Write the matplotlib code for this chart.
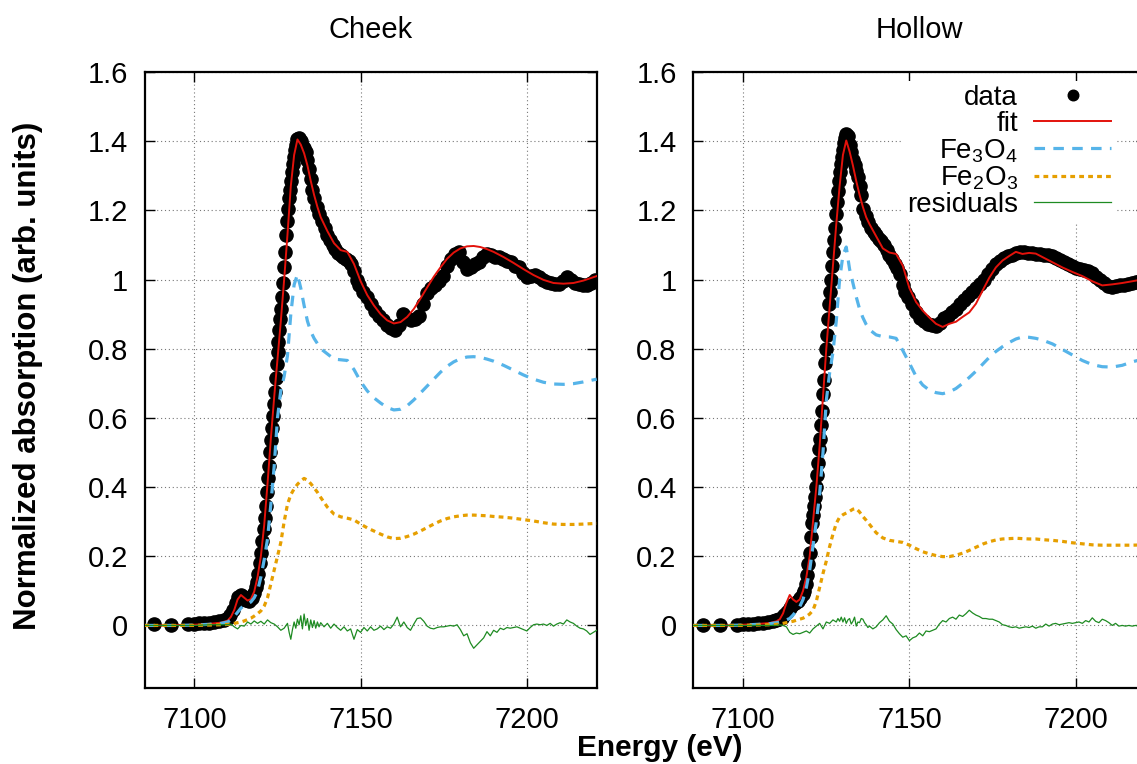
import matplotlib
matplotlib.use('Agg')
import matplotlib.pyplot as plt

plt.rcParams['font.family'] = ['Liberation Sans', 'DejaVu Sans']
plt.rcParams['mathtext.fontset'] = 'custom'
plt.rcParams['mathtext.rm'] = 'Liberation Sans'
plt.rcParams['mathtext.it'] = 'Liberation Sans:italic'
plt.rcParams['mathtext.bf'] = 'Liberation Sans:bold'
plt.rcParams['mathtext.default'] = 'regular'

# ---------------- data ----------------
panel_titles = ["Cheek", "Hollow"]
legend_labels = ["data", "fit", "Fe$_3$O$_4$", "Fe$_2$O$_3$", "residuals"]
xticks = [7100, 7150, 7200]
yticks = [0, 0.2, 0.4, 0.6, 0.8, 1.0, 1.2, 1.4, 1.6]
ytick_labels = ["0", "0.2", "0.4", "0.6", "0.8", "1", "1.2", "1.4", "1.6"]

E_data = [7088, 7093, 7098,
          7100, 7101.5, 7103, 7104.5, 7106, 7107.5, 7109, 7110,
          7110.8, 7111.6, 7112.4, 7113.2, 7114, 7114.8, 7115.6, 7116.4, 7117.2, 7118,
          7118.4, 7118.8, 7119.2, 7119.6, 7120, 7120.4, 7120.8, 7121.1, 7121.4, 7121.7,
          7122, 7122.3, 7122.6, 7122.9, 7123.2, 7123.5, 7123.8, 7124.1, 7124.4, 7124.7,
          7125, 7125.3, 7125.6, 7125.9, 7126.2, 7126.5, 7126.8, 7127.1, 7127.4, 7127.7,
          7128, 7128.3, 7128.6, 7128.9, 7129.2, 7129.5, 7129.8, 7130.1, 7130.4, 7130.7, 7131,
          7131.5, 7132, 7132.5, 7133, 7133.5, 7134, 7134.5, 7135, 7135.5, 7136,
          7136.8, 7137.6, 7138.4, 7139.2, 7140, 7140.8, 7141.6, 7142.4, 7143.2, 7144,
          7144.8, 7145.6, 7146.4, 7147.2, 7148, 7148.8, 7149.6,
          7150.8, 7152, 7153.2, 7154.4, 7155.6, 7156.8, 7158, 7159.2, 7160.4, 7161.6,
          7162.8, 7164, 7165.2, 7166.4, 7167.6, 7168.8, 7170, 7171.2, 7172.4, 7173.6,
          7174.8, 7176, 7177.2, 7178.4, 7179.6, 7180.8, 7182, 7183.2, 7184.4, 7185.6,
          7186.8, 7188, 7189.2, 7190.4, 7191.6, 7192.8, 7194, 7195.2, 7196.4, 7197.6,
          7198.8, 7200, 7201.2, 7202.4, 7203.6, 7204.8, 7206, 7207.2, 7208.4, 7209.6,
          7210.8, 7212, 7213.2, 7214.4, 7215.6, 7216.8, 7218, 7219.2, 7220.4]

cheek_data = [0.003, 0.002, 0.004,
              0.005, 0.006, 0.007, 0.008, 0.010, 0.012, 0.016, 0.022,
              0.030, 0.045, 0.065, 0.082, 0.088, 0.082, 0.074, 0.072, 0.080, 0.095,
              0.110, 0.125, 0.150, 0.180, 0.210, 0.245, 0.280, 0.310, 0.345, 0.385,
              0.425, 0.460, 0.500, 0.535, 0.570, 0.605, 0.640, 0.675, 0.715, 0.755,
              0.790, 0.820, 0.855, 0.885, 0.915, 0.950, 0.990, 1.035, 1.080, 1.130,
              1.170, 1.205, 1.235, 1.260, 1.285, 1.310, 1.335, 1.355, 1.375, 1.390, 1.405,
              1.408, 1.400, 1.390, 1.380, 1.370, 1.345, 1.320, 1.290, 1.260, 1.235,
              1.210, 1.190, 1.170, 1.150, 1.130, 1.115, 1.100, 1.088, 1.078, 1.070,
              1.065, 1.060, 1.055, 1.045, 1.025, 1.000, 0.985,
              0.965, 0.950, 0.930, 0.910, 0.895, 0.882, 0.870, 0.860, 0.855, 0.870,
              0.900, 0.888, 0.882, 0.885, 0.895, 0.930, 0.960, 0.975, 0.985, 0.995,
              1.010, 1.040, 1.060, 1.075, 1.080, 1.050, 1.030, 1.035, 1.045, 1.050,
              1.065, 1.075, 1.070, 1.065, 1.066, 1.060, 1.055, 1.050, 1.040, 1.035,
              1.020, 1.007, 1.010, 1.012, 1.008, 1.000, 0.993, 0.990, 0.988, 0.988,
              0.995, 1.007, 1.000, 0.990, 0.986, 0.984, 0.983, 0.990, 0.998]

hollow_data = [0.001, 0.001, 0.002,
               0.003, 0.004, 0.005, 0.006, 0.007, 0.009, 0.012, 0.015,
               0.018, 0.022, 0.030, 0.040, 0.050, 0.060, 0.066, 0.070, 0.078, 0.092,
               0.100, 0.120, 0.145, 0.178, 0.210, 0.255, 0.295, 0.320, 0.345, 0.370,
               0.400, 0.435, 0.470, 0.510, 0.540, 0.580, 0.620, 0.670, 0.710, 0.760,
               0.800, 0.840, 0.885, 0.930, 0.965, 1.000, 1.040, 1.080, 1.115, 1.150,
               1.190, 1.225, 1.255, 1.285, 1.310, 1.335, 1.355, 1.375, 1.395, 1.410, 1.422,
               1.415, 1.390, 1.370, 1.345, 1.330, 1.315, 1.295, 1.270, 1.245, 1.205,
               1.185, 1.165, 1.150, 1.138, 1.128, 1.118, 1.110, 1.100, 1.085, 1.070,
               1.058, 1.045, 1.032, 1.015, 0.985, 0.965, 0.950,
               0.930, 0.905, 0.890, 0.880, 0.872, 0.868, 0.866, 0.875, 0.888, 0.895,
               0.905, 0.915, 0.928, 0.940, 0.952, 0.963, 0.975, 0.988, 1.000, 1.015,
               1.030, 1.045, 1.055, 1.062, 1.068, 1.072, 1.076, 1.080, 1.080, 1.078,
               1.077, 1.075, 1.073, 1.072, 1.070, 1.068, 1.062, 1.056, 1.050, 1.045,
               1.038, 1.032, 1.030, 1.028, 1.025, 1.018, 1.008, 0.998, 0.990, 0.980,
               0.978, 0.982, 0.983, 0.985, 0.988, 0.990, 0.993, 0.996, 1.000]

E_model = [7085, 7090, 7095, 7100, 7104, 7108,
           7110, 7111, 7112, 7113, 7114, 7115, 7116, 7117, 7118, 7119,
           7120, 7121, 7122, 7123, 7124, 7125, 7126, 7127, 7128, 7129,
           7130, 7131, 7132, 7133, 7134, 7135, 7136, 7137, 7138,
           7140, 7142, 7144, 7146, 7148, 7150, 7152, 7154, 7156, 7158,
           7160, 7162, 7164, 7166, 7168, 7170, 7172, 7174, 7176, 7178,
           7180, 7182, 7184, 7186, 7188, 7190,
           7193, 7196, 7199, 7202, 7205, 7208, 7211, 7214, 7217, 7221]

cheek_fit = [0.000, 0.000, 0.001, 0.002, 0.004, 0.008,
             0.014, 0.025, 0.045, 0.075, 0.088, 0.080, 0.072, 0.076, 0.098, 0.140,
             0.200, 0.290, 0.410, 0.540, 0.660, 0.770, 0.880, 1.000, 1.130, 1.270,
             1.360, 1.405, 1.390, 1.365, 1.330, 1.285, 1.245, 1.210, 1.180,
             1.140, 1.105, 1.085, 1.080, 1.045, 0.995, 0.955, 0.925, 0.900, 0.882,
             0.873, 0.877, 0.892, 0.915, 0.945, 0.977, 1.008, 1.035, 1.060, 1.078,
             1.090, 1.096, 1.097, 1.094, 1.088, 1.080,
             1.065, 1.048, 1.030, 1.013, 0.999, 0.990, 0.988, 0.990, 0.997, 1.010]

cheek_fe3o4 = [0.000, 0.000, 0.000, 0.001, 0.003, 0.006,
               0.010, 0.016, 0.026, 0.038, 0.050, 0.058, 0.062, 0.068, 0.080, 0.100,
               0.140, 0.190, 0.250, 0.350, 0.460, 0.600, 0.680, 0.720, 0.780, 0.900,
               0.985, 1.015, 0.975, 0.925, 0.880, 0.850, 0.830, 0.815, 0.800,
               0.785, 0.770, 0.768, 0.766, 0.740, 0.705, 0.678, 0.658, 0.643, 0.630,
               0.623, 0.625, 0.635, 0.652, 0.672, 0.692, 0.712, 0.732, 0.749, 0.762,
               0.771, 0.776, 0.777, 0.775, 0.770, 0.764,
               0.752, 0.738, 0.724, 0.712, 0.703, 0.698, 0.697, 0.699, 0.704, 0.712]

cheek_fe2o3 = [0.000, 0.000, 0.000, 0.000, 0.001, 0.002,
               0.003, 0.004, 0.006, 0.008, 0.010, 0.013, 0.017, 0.021, 0.027, 0.034,
               0.042, 0.056, 0.080, 0.120, 0.160, 0.200, 0.240, 0.300, 0.350, 0.378,
               0.395, 0.408, 0.418, 0.425, 0.420, 0.410, 0.398, 0.385, 0.370,
               0.342, 0.322, 0.314, 0.310, 0.305, 0.293, 0.282, 0.273, 0.264, 0.256,
               0.251, 0.252, 0.257, 0.264, 0.273, 0.283, 0.293, 0.302, 0.309, 0.314,
               0.317, 0.319, 0.319, 0.318, 0.317, 0.315,
               0.313, 0.310, 0.306, 0.302, 0.297, 0.293, 0.292, 0.292, 0.293, 0.295]

hollow_fit = [0.000, 0.000, 0.000, 0.002, 0.004, 0.007,
              0.012, 0.018, 0.035, 0.065, 0.088, 0.075, 0.068, 0.075, 0.100, 0.140,
              0.200, 0.300, 0.400, 0.520, 0.660, 0.800, 0.920, 1.040, 1.160, 1.270,
              1.360, 1.402, 1.370, 1.330, 1.285, 1.245, 1.210, 1.180, 1.160,
              1.125, 1.090, 1.078, 1.074, 1.040, 0.975, 0.935, 0.910, 0.890, 0.872,
              0.863, 0.872, 0.878, 0.892, 0.905, 0.930, 0.968, 1.005, 1.035, 1.055,
              1.068, 1.080, 1.074, 1.077, 1.075, 1.065,
              1.050, 1.035, 1.022, 1.010, 0.995, 0.983, 0.986, 0.990, 0.995, 1.002]

hollow_fe3o4 = [0.000, 0.000, 0.000, 0.001, 0.003, 0.005,
                0.008, 0.010, 0.013, 0.016, 0.020, 0.030, 0.042, 0.054, 0.075, 0.110,
                0.160, 0.230, 0.300, 0.380, 0.500, 0.650, 0.730, 0.790, 0.880, 1.000,
                1.070, 1.094, 1.030, 0.990, 0.950, 0.915, 0.890, 0.870, 0.855,
                0.840, 0.835, 0.834, 0.830, 0.795, 0.758, 0.720, 0.695, 0.680, 0.673,
                0.670, 0.675, 0.685, 0.700, 0.717, 0.735, 0.755, 0.775, 0.792, 0.806,
                0.818, 0.828, 0.834, 0.833, 0.830, 0.825,
                0.814, 0.798, 0.782, 0.766, 0.754, 0.748, 0.747, 0.752, 0.762, 0.772]

hollow_fe2o3 = [0.000, 0.000, 0.000, 0.000, 0.001, 0.002,
                0.003, 0.004, 0.006, 0.008, 0.010, 0.012, 0.015, 0.018, 0.021, 0.026,
                0.033, 0.044, 0.070, 0.110, 0.150, 0.186, 0.228, 0.264, 0.295, 0.313,
                0.320, 0.325, 0.330, 0.336, 0.338, 0.328, 0.315, 0.304, 0.292,
                0.268, 0.253, 0.246, 0.243, 0.240, 0.232, 0.222, 0.213, 0.207, 0.202,
                0.199, 0.199, 0.203, 0.209, 0.217, 0.226, 0.235, 0.242, 0.247, 0.250,
                0.251, 0.252, 0.251, 0.250, 0.250, 0.248,
                0.246, 0.243, 0.239, 0.236, 0.233, 0.232, 0.232, 0.232, 0.232, 0.233]

E_res = [7085, 7090, 7095, 7100, 7105,
         7110, 7111, 7112, 7113, 7114, 7115, 7116, 7117, 7118, 7119,
         7120, 7121, 7122, 7123, 7124, 7125, 7126, 7127, 7128,
         7128.5, 7129, 7129.5, 7130, 7130.5, 7131, 7131.5, 7132, 7132.5, 7133,
         7133.5, 7134, 7134.5, 7135, 7135.5, 7136, 7136.5, 7137, 7137.5, 7138,
         7139, 7140, 7141, 7142, 7143, 7144, 7145, 7146, 7147, 7148, 7149,
         7150, 7151, 7152, 7153, 7154, 7155, 7156, 7157, 7158, 7159,
         7160, 7161, 7162, 7163, 7164, 7165, 7166, 7167, 7168, 7169,
         7170, 7171, 7172, 7173, 7174, 7175, 7176, 7177, 7178, 7179,
         7180, 7181, 7182, 7183, 7184, 7185, 7186, 7187, 7188, 7189,
         7190, 7191, 7192, 7193, 7194, 7195, 7196, 7197, 7198, 7199,
         7200, 7201, 7202, 7203, 7204, 7205, 7206, 7207, 7208, 7209,
         7210, 7211, 7212, 7213, 7214, 7215, 7216, 7217, 7218, 7219,
         7220, 7221]

cheek_res = [0.000, 0.000, 0.000, 0.000, 0.002,
             0.002, 0.004, -0.004, -0.010, 0.000, -0.002, 0.010, 0.004, 0.013, 0.006,
             0.012, 0.004, 0.016, 0.008, 0.004, -0.004, -0.014, -0.008, 0.006,
             -0.020, -0.040, -0.012, 0.010, -0.008, 0.018, 0.002, 0.028, -0.010, 0.033,
             0.000, 0.020, -0.014, 0.016, -0.006, 0.014, -0.008, 0.010, -0.004, 0.008,
             -0.004, 0.006, -0.008, 0.004, -0.006, -0.014, -0.004, -0.016, -0.010, -0.040, -0.012,
             -0.020, -0.006, -0.016, -0.004, -0.014, -0.010, -0.002, -0.012, -0.004, -0.008,
             0.004, 0.024, -0.004, 0.010, -0.006, -0.014, 0.004, 0.020, 0.022, 0.012,
             -0.002, -0.008, -0.010, -0.006, -0.004, -0.004, -0.002, 0.000, -0.002, 0.002,
             -0.012, -0.030, -0.024, -0.050, -0.066, -0.056, -0.046, -0.036, -0.018, -0.030,
             -0.014, -0.020, -0.008, -0.012, -0.006, -0.008, -0.006, -0.004, -0.008, -0.012,
             -0.016, -0.006, 0.002, 0.004, 0.002, 0.004, 0.000, 0.006, -0.002, 0.004,
             0.008, 0.004, 0.016, 0.010, 0.006, -0.002, -0.008, -0.010, -0.016, -0.026,
             -0.020, -0.014]

hollow_res = [0.000, 0.000, 0.000, 0.000, 0.000,
              0.000, 0.002, 0.000, -0.004, -0.020, -0.026, -0.022, -0.024, -0.020, -0.016,
              -0.022, -0.010, -0.002, 0.006, -0.010, 0.010, 0.006, 0.016, 0.010,
              0.020, 0.012, 0.024, 0.010, 0.022, 0.006, 0.016, 0.020, 0.004, 0.012,
              0.024, -0.002, 0.010, 0.008, 0.020, 0.018, 0.008, 0.002, -0.006, -0.002,
              -0.010, -0.004, 0.008, 0.016, 0.028, 0.012, 0.004, -0.012, -0.024, -0.034, -0.030,
              -0.044, -0.036, -0.032, -0.022, -0.030, -0.016, -0.018, -0.014, -0.010, 0.004,
              0.014, 0.010, 0.020, 0.024, 0.018, 0.030, 0.026, 0.034, 0.044, 0.036,
              0.030, 0.026, 0.020, 0.020, 0.018, 0.018, 0.014, 0.010, 0.002, 0.000,
              -0.004, -0.006, -0.004, -0.008, -0.006, -0.004, -0.006, -0.002, -0.008, -0.004,
              -0.004, 0.004, -0.002, 0.004, 0.006, 0.002, 0.004, 0.006, 0.008, 0.006,
              0.008, 0.010, 0.006, 0.014, 0.010, 0.022, 0.012, 0.008, 0.018, 0.014,
              0.008, 0.000, 0.006, -0.002, 0.000, -0.002, 0.000, -0.002, 0.000, -0.002,
              0.000, 0.000]

panels = [
    (cheek_data, cheek_fit, cheek_fe3o4, cheek_fe2o3, cheek_res),
    (hollow_data, hollow_fit, hollow_fe3o4, hollow_fe2o3, hollow_res),
]

# ---------------- styling ----------------
C_FIT = '#e3120b'
C_FE3O4 = '#56b4e9'
C_FE2O3 = '#e69f00'
C_RES = '#1e8b22'
FS = 21

W, H = 1137, 764
fig = plt.figure(figsize=(W / 100, H / 100), dpi=100)


def rect(l, t, r, b):
    return [l / W, 1 - b / H, (r - l) / W, (b - t) / H]


axes = [fig.add_axes(rect(144.5, 72, 596.7, 687.7)),
        fig.add_axes(rect(693.3, 72, 1145.5, 687.7))]

for ax, (mu, fit, f3, f2, res), title in zip(axes, panels, panel_titles):
    ax.plot(E_data, mu, 'o', color='black', ms=9.5, mec='black', zorder=2,
            label=legend_labels[0])
    ax.plot(E_model, fit, '-', color=C_FIT, lw=1.4, zorder=3, label=legend_labels[1])
    ax.plot(E_model, f3, color=C_FE3O4, lw=2.3, ls=(0, (3.3, 2.6)), zorder=4,
            label=legend_labels[2])
    ax.plot(E_model, f2, color=C_FE2O3, lw=2.3, ls=(0, (1.5, 1.3)), zorder=5,
            label=legend_labels[3])
    ax.plot(E_res, res, '-', color=C_RES, lw=0.9, zorder=6, label=legend_labels[4])

    ax.set_xlim(7085, 7221)
    ax.set_ylim(-0.18, 1.6)
    ax.set_xticks(xticks)
    ax.set_yticks(yticks)
    ax.set_yticklabels(ytick_labels)
    ax.grid(True, color='#777777', lw=0.8, ls=(0, (1, 2.5)))
    ax.set_axisbelow(True)
    ax.tick_params(axis='both', direction='in', length=7, width=1.0,
                   top=True, right=True, labelsize=FS, colors='black')
    ax.tick_params(axis='x', pad=13)
    ax.tick_params(axis='y', pad=12)
    for sp in ax.spines.values():
        sp.set_linewidth(1.6)
    pos = ax.get_position()
    fig.text(pos.x0 + pos.width / 2, 1 - 30 / H, title, ha='center', va='center',
             fontsize=FS)

# legend on right panel (opaque white box hides the grid, like the reference)
leg = axes[1].legend(loc='upper right', bbox_to_anchor=(1115 / W, 1 - 81 / H),
                     bbox_transform=fig.transFigure, borderaxespad=0,
                     markerfirst=False, fontsize=20, frameon=True, fancybox=False,
                     framealpha=1, facecolor='white', edgecolor='none',
                     borderpad=0.15, labelspacing=0.0, handlelength=2.75,
                     handletextpad=0.6, numpoints=1, markerscale=0.8)
leg.set_zorder(10)

fig.text(28 / W, 1 - 376 / H, 'Normalized absorption (arb. units)', rotation=90,
         ha='center', va='center', fontsize=22.5, fontweight='bold')
fig.text(660 / W, 1 - 748 / H, 'Energy (eV)', ha='center', va='center',
         fontsize=21.5, fontweight='bold')

fig.savefig('out.png', dpi=100)
